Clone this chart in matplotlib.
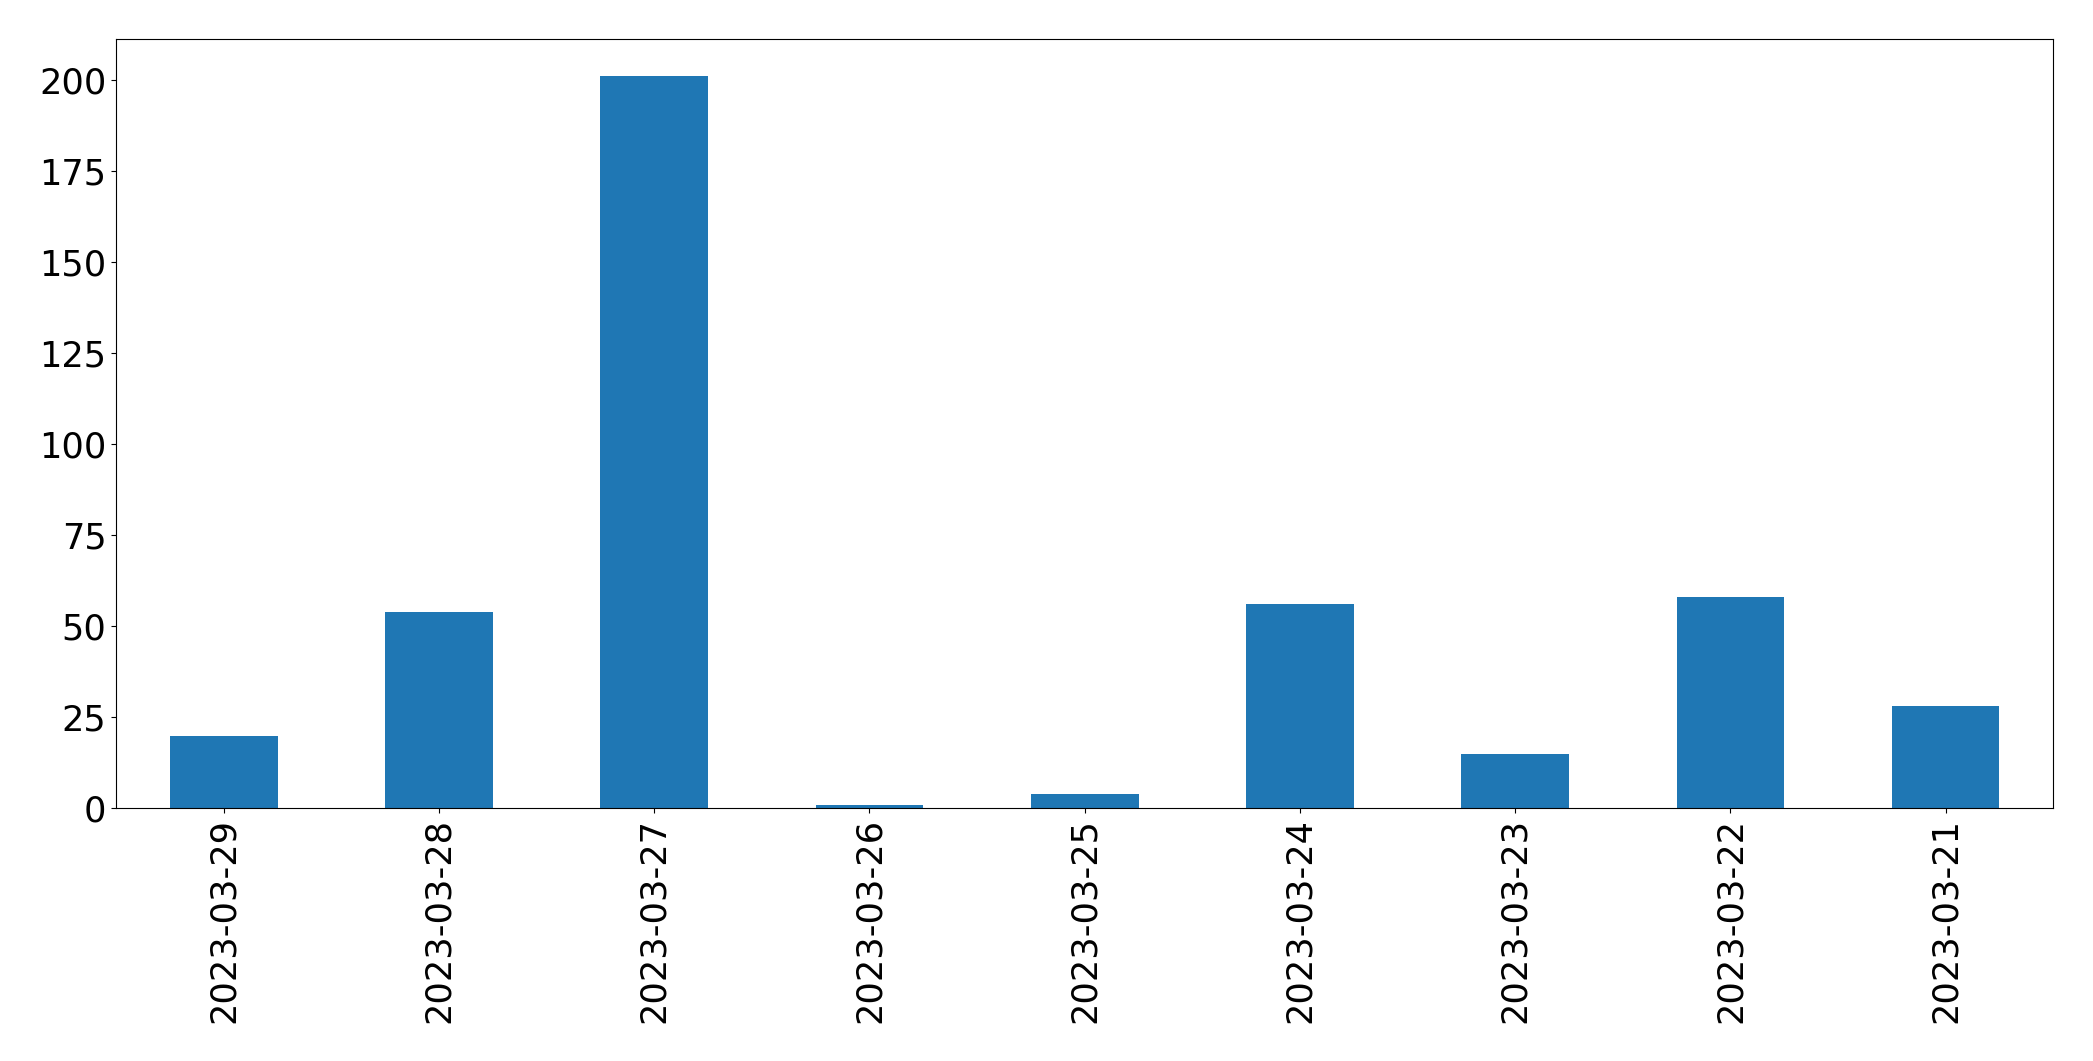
import numpy as np
import pandas as pd
import matplotlib
matplotlib.use("Agg")
import matplotlib.pyplot as plt

dates = ["2023-03-29", "2023-03-28", "2023-03-27", "2023-03-26", "2023-03-25",
         "2023-03-24", "2023-03-23", "2023-03-22", "2023-03-21"]
counts = [20, 54, 201, 1, 4, 56, 15, 58, 28]

s = pd.Series(counts, index=dates)

fig, ax = plt.subplots(figsize=(20.93, 10.61), dpi=100)
s.plot(kind="bar", ax=ax, color="#1f77b4", width=0.5)
ax.tick_params(axis="both", labelsize=25.3)
plt.xticks(rotation=90)

fig.subplots_adjust(left=0.0555, right=0.981, top=0.963, bottom=0.238)
fig.savefig("out.png", dpi=100)
